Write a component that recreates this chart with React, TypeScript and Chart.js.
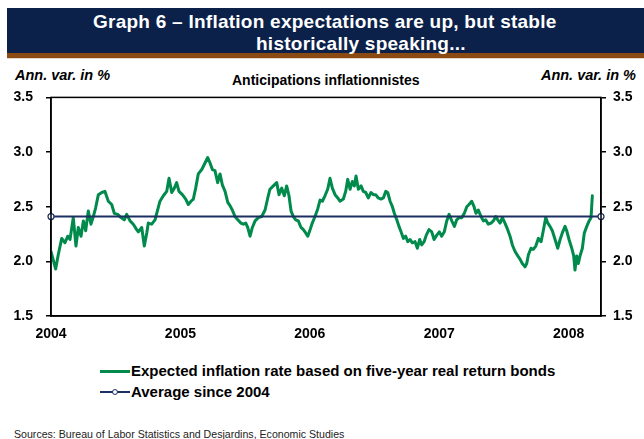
import React, { useEffect, useRef } from "react";
import { Chart, registerables } from "chart.js";

Chart.register(...registerables);

// Observation dates as decimal years
const dates: number[] = [
  2004.0, 2004.036, 2004.056, 2004.083, 2004.108, 2004.129, 2004.147, 2004.172, 2004.193, 2004.211,
  2004.232, 2004.25, 2004.268, 2004.288, 2004.309, 2004.327, 2004.345, 2004.366, 2004.392, 2004.417,
  2004.443, 2004.469, 2004.489, 2004.515, 2004.541, 2004.566, 2004.585, 2004.611, 2004.636, 2004.662,
  2004.675, 2004.701, 2004.721, 2004.74, 2004.752, 2004.778, 2004.804, 2004.817, 2004.842, 2004.868,
  2004.894, 2004.912, 2004.933, 2004.953, 2004.971, 2004.989, 2005.015, 2005.041, 2005.061, 2005.082,
  2005.1, 2005.118, 2005.138, 2005.165, 2005.19, 2005.211, 2005.229, 2005.247, 2005.267, 2005.288,
  2005.306, 2005.324, 2005.345, 2005.366, 2005.383, 2005.401, 2005.422, 2005.443, 2005.468, 2005.486,
  2005.505, 2005.52, 2005.538, 2005.556, 2005.577, 2005.602, 2005.628, 2005.654, 2005.675, 2005.692,
  2005.718, 2005.744, 2005.762, 2005.783, 2005.803, 2005.821, 2005.839, 2005.855, 2005.873, 2005.891,
  2005.911, 2005.932, 2005.95, 2005.968, 2005.984, 2006.002, 2006.019, 2006.04, 2006.061, 2006.079,
  2006.097, 2006.117, 2006.138, 2006.156, 2006.174, 2006.195, 2006.216, 2006.233, 2006.259, 2006.277,
  2006.293, 2006.311, 2006.328, 2006.344, 2006.357, 2006.375, 2006.396, 2006.413, 2006.432, 2006.452,
  2006.473, 2006.491, 2006.509, 2006.529, 2006.55, 2006.568, 2006.587, 2006.602, 2006.62, 2006.638,
  2006.653, 2006.672, 2006.689, 2006.705, 2006.723, 2006.741, 2006.757, 2006.774, 2006.792, 2006.813,
  2006.831, 2006.849, 2006.865, 2006.883, 2006.9, 2006.921, 2006.942, 2006.96, 2006.981, 2007.001,
  2007.019, 2007.039, 2007.058, 2007.076, 2007.097, 2007.117, 2007.135, 2007.153, 2007.174, 2007.194,
  2007.213, 2007.23, 2007.251, 2007.269, 2007.284, 2007.302, 2007.323, 2007.341, 2007.359, 2007.379,
  2007.4, 2007.418, 2007.437, 2007.452, 2007.47, 2007.488, 2007.508, 2007.529, 2007.547, 2007.565,
  2007.586, 2007.607, 2007.624, 2007.642, 2007.663, 2007.676, 2007.689, 2007.709, 2007.727, 2007.746,
  2007.766, 2007.787, 2007.804, 2007.823, 2007.839, 2007.856, 2007.874, 2007.895, 2007.916, 2007.934,
  2007.951, 2007.972, 2007.985, 2008.003, 2008.024, 2008.039, 2008.049, 2008.062, 2008.075, 2008.088,
  2008.106, 2008.121, 2008.14, 2008.158, 2008.173, 2008.183,
];

// Expected inflation rate based on five-year real return bonds (%)
const expectedInflation: number[] = [
  2.09, 1.93, 2.06, 2.21, 2.17, 2.23, 2.2, 2.4, 2.14, 2.31,
  2.23, 2.37, 2.28, 2.46, 2.34, 2.41, 2.49, 2.61, 2.63, 2.64,
  2.55, 2.52, 2.44, 2.43, 2.4, 2.38, 2.43, 2.37, 2.34, 2.29,
  2.27, 2.31, 2.14, 2.26, 2.35, 2.34, 2.38, 2.44, 2.55, 2.6,
  2.64, 2.76, 2.63, 2.67, 2.72, 2.64, 2.61, 2.57, 2.52, 2.55,
  2.57, 2.67, 2.8, 2.84, 2.9, 2.95, 2.9, 2.84, 2.83, 2.72,
  2.8, 2.7, 2.64, 2.54, 2.51, 2.47, 2.41, 2.38, 2.35, 2.34,
  2.35, 2.31, 2.23, 2.31, 2.37, 2.4, 2.41, 2.47, 2.58, 2.66,
  2.69, 2.72, 2.61, 2.67, 2.6, 2.69, 2.6, 2.46, 2.41, 2.38,
  2.37, 2.31, 2.29, 2.26, 2.23, 2.29, 2.35, 2.41, 2.48, 2.56,
  2.55, 2.6, 2.66, 2.76, 2.67, 2.61, 2.58, 2.55, 2.57, 2.64,
  2.75, 2.66, 2.73, 2.69, 2.78, 2.66, 2.69, 2.64, 2.63, 2.58,
  2.63, 2.61, 2.61, 2.58, 2.57, 2.58, 2.64, 2.63, 2.55, 2.5,
  2.44, 2.38, 2.32, 2.27, 2.21, 2.23, 2.18, 2.2, 2.17, 2.18,
  2.12, 2.2, 2.15, 2.18, 2.24, 2.29, 2.27, 2.2, 2.24, 2.27,
  2.23, 2.27, 2.37, 2.43, 2.37, 2.32, 2.38, 2.4, 2.4, 2.44,
  2.5, 2.52, 2.55, 2.5, 2.44, 2.47, 2.41, 2.37, 2.38, 2.34,
  2.35, 2.37, 2.41, 2.38, 2.35, 2.4, 2.35, 2.29, 2.23, 2.15,
  2.09, 2.05, 2.02, 1.98, 1.95, 1.98, 2.06, 2.12, 2.11, 2.14,
  2.21, 2.18, 2.28, 2.4, 2.35, 2.32, 2.28, 2.2, 2.12, 2.2,
  2.26, 2.32, 2.28, 2.2, 2.12, 2.05, 1.92, 2.05, 1.98, 2.05,
  2.12, 2.26, 2.32, 2.37, 2.4, 2.6,
];

const averageSince2004 = 2.41;
const averageSpan: number[] = [2004, 2008.25];

const xTickYears: number[] = [2004, 2005, 2006, 2007, 2008];
const yTicks: number[] = [1.5, 2.0, 2.5, 3.0, 3.5];

const GREEN = "#008a4b";
const NAVY = "#1b2f63";
const FONT = '"Liberation Sans", Arial, sans-serif';

const framePlugin = {
  id: "frame",
  afterDatasetsDraw(chart: any) {
    const { ctx, chartArea } = chart;
    ctx.save();
    ctx.strokeStyle = "#000";
    ctx.lineWidth = 1.5;
    ctx.strokeRect(chartArea.left, chartArea.top, chartArea.right - chartArea.left, chartArea.bottom - chartArea.top);
    ctx.restore();
  },
};

function InflationChart() {
  const ref = useRef<HTMLCanvasElement | null>(null);
  useEffect(() => {
    if (!ref.current) return;
    const mainData = dates.map((d, i) => ({ x: d, y: expectedInflation[i] }));
    const avgData = averageSpan.map((d) => ({ x: d, y: averageSince2004 }));
    const yBase = () => ({
      min: yTicks[0],
      max: yTicks[yTicks.length - 1],
      afterBuildTicks: (scale: any) => {
        scale.ticks = yTicks.map((v) => ({ value: v }));
      },
      grid: { display: true, drawOnChartArea: false, drawTicks: true, tickLength: 5, color: "#000", lineWidth: 1.5 },
      border: { display: true, color: "#000", width: 1.5 },
    });
    const yTickFont = { family: FONT, size: 14, weight: "bold" };
    const chart = new Chart(ref.current, {
      type: "line",
      data: {
        datasets: [
          {
            label: "Average since 2004",
            data: avgData,
            borderColor: NAVY,
            borderWidth: 2,
            pointRadius: 3,
            pointBackgroundColor: "#fff",
            pointBorderColor: NAVY,
            pointBorderWidth: 1.2,
            clip: false,
            order: 1,
          } as any,
          {
            label: "Expected inflation rate based on five-year real return bonds",
            data: mainData,
            borderColor: GREEN,
            borderWidth: 3,
            borderJoinStyle: "round",
            borderCapStyle: "round",
            pointRadius: 0,
            tension: 0,
            order: 2,
          } as any,
        ],
      },
      options: {
        animation: false,
        responsive: false,
        maintainAspectRatio: false,
        layout: { padding: { top: 16, bottom: 0, left: 0, right: 0 } },
        plugins: { legend: { display: false }, tooltip: { enabled: false } },
        scales: {
          x: {
            type: "linear",
            min: averageSpan[0],
            max: averageSpan[1],
            afterBuildTicks: (scale: any) => {
              scale.ticks = xTickYears.map((v) => ({ value: v }));
            },
            ticks: {
              color: "#000",
              font: { family: FONT, size: 14, weight: "bold" },
              padding: 10,
              maxRotation: 0,
              autoSkip: false,
              callback: (v: any) => String(v),
            },
            grid: { display: false, drawTicks: false },
            border: { display: true, color: "#000", width: 1.5 },
            afterFit: (s: any) => { s.height = 34; },
          },
          y: {
            position: "left",
            ...yBase(),
            ticks: { color: "#000", font: yTickFont, padding: 13, callback: (v: any) => Number(v).toFixed(1) },
            afterFit: (s: any) => { s.width = 51; },
          } as any,
          y2: {
            position: "right",
            ...yBase(),
            ticks: { color: "#000", font: yTickFont, padding: 7, callback: (v: any) => Number(v).toFixed(1) },
            afterFit: (s: any) => { s.width = 43; },
          } as any,
        },
      } as any,
      plugins: [framePlugin],
    });
    return () => chart.destroy();
  }, []);
  return <canvas ref={ref} width={644} height={274} style={{ position: "absolute", left: 0, top: 76, width: 644, height: 274 }} />;
}

export default function App() {
  const abs = (s: React.CSSProperties): React.CSSProperties => ({ position: "absolute", whiteSpace: "nowrap", ...s });
  return (
    <div style={{ position: "absolute", left: 0, top: 0, width: 644, height: 439, background: "#fff", overflow: "hidden", fontFamily: FONT }}>
      <div style={abs({ left: 7, top: 8, width: 637, height: 45, background: "#0b2149" })} />
      <div style={abs({ left: 7, top: 53, width: 637, height: 5, background: "#8a4a12" })} />
      <div style={abs({ left: 7, top: 58, width: 637, height: 1, background: "#e2d6c8" })} />
      <div style={abs({ left: 93, top: 11, color: "#fff", fontWeight: "bold", fontSize: 19, letterSpacing: 0.25, lineHeight: "22px" })}>
        Graph 6 – Inflation expectations are up, but stable
      </div>
      <div style={abs({ left: 256, top: 33, color: "#fff", fontWeight: "bold", fontSize: 19, letterSpacing: 0.25, lineHeight: "22px" })}>
        historically speaking...
      </div>
      <div style={abs({ left: 15, top: 67, fontWeight: "bold", fontStyle: "italic", fontSize: 14.5, lineHeight: "16px" })}>Ann. var. in %</div>
      <div style={abs({ right: 8, top: 67, fontWeight: "bold", fontStyle: "italic", fontSize: 14.5, lineHeight: "16px" })}>Ann. var. in %</div>
      <div style={abs({ left: 232, top: 72, fontWeight: "bold", fontSize: 14, lineHeight: "16px" })}>Anticipations inflationnistes</div>
      <InflationChart />
      <div style={abs({ left: 100, top: 362, fontWeight: "bold", fontSize: 15, lineHeight: "18px", display: "flex", alignItems: "center" })}>
        <span style={{ display: "inline-block", width: 30, height: 3, background: GREEN, marginRight: 1 }} />
        Expected inflation rate based on five-year real return bonds
      </div>
      <div style={abs({ left: 100, top: 383, fontWeight: "bold", fontSize: 15, lineHeight: "18px", display: "flex", alignItems: "center" })}>
        <span style={{ position: "relative", display: "inline-block", width: 30, height: 2, background: NAVY, marginRight: 1 }}>
          <span style={{ position: "absolute", left: 12, top: -2, width: 6, height: 6, borderRadius: "50%", background: "#fff", border: `1px solid ${NAVY}`, boxSizing: "border-box" as any }} />
        </span>
        Average since 2004
      </div>
      <div style={abs({ left: 14, top: 428, fontSize: 10.6, lineHeight: "12px", color: "#222" })}>
        Sources: Bureau of Labor Statistics and Desjardins, Economic Studies
      </div>
    </div>
  );
}
